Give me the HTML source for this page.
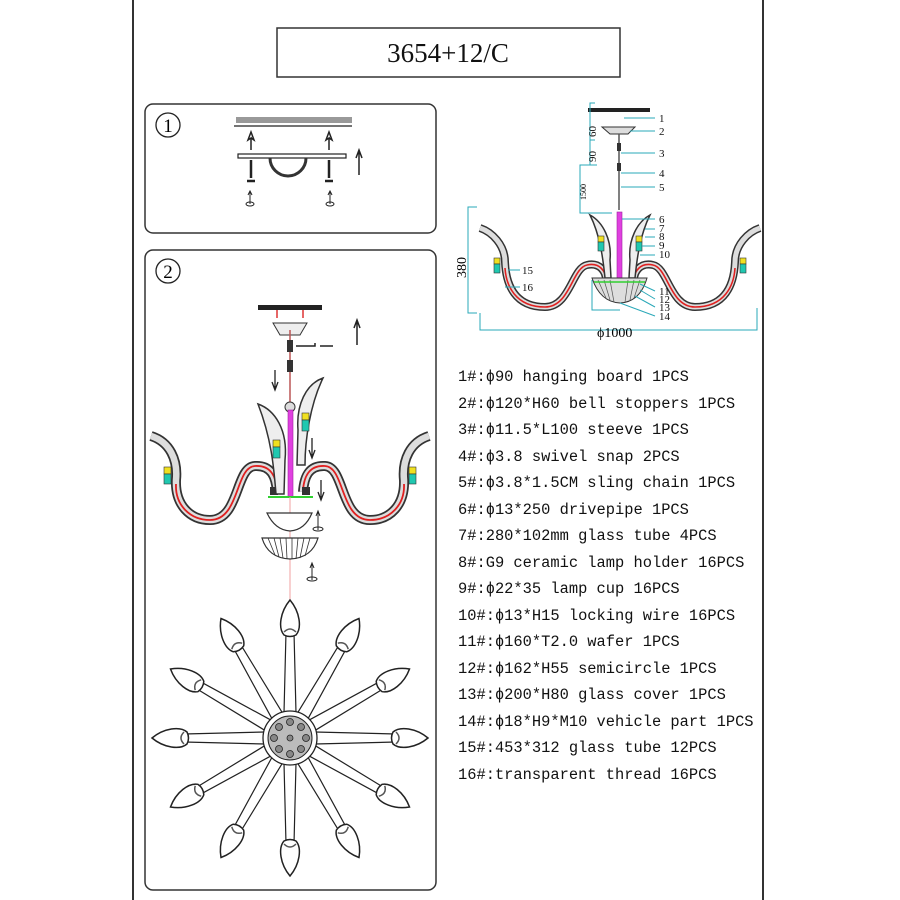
<!DOCTYPE html>
<html><head><meta charset="utf-8"><style>
html,body{margin:0;padding:0;background:#fff;}
svg{display:block;}
.t{font-family:"Liberation Mono",monospace;font-size:15.4px;fill:#111;}
.n{font-family:"Liberation Serif",serif;font-size:11px;fill:#111;}
</style></head><body>
<svg width="900" height="900" viewBox="0 0 900 900" xmlns="http://www.w3.org/2000/svg">
<defs>
<g id="petal">
 <path d="M-6,-25 L-4,-106 M6,-25 L4,-106" stroke="#222" stroke-width="1.2" fill="none"/>
 <path d="M0,-138 C-10,-126 -12,-110 -6,-103 Q0,-100 6,-103 C12,-110 10,-126 0,-138Z" fill="#fff" stroke="#222" stroke-width="1.5"/>
 <path d="M-6,-106 Q0,-112 6,-106" stroke="#555" stroke-width="1.5" fill="none"/>
</g>
<g id="armR">
 <path d="M480,228 C492,232 505,245 505,262 C506,285 515,307 545,307 C570,307 572,268 587,265 C600,262 606,272 606,280" fill="none" stroke="#333" stroke-width="8"/>
 <path d="M480,228 C492,232 505,245 505,262 C506,285 515,307 545,307 C570,307 572,268 587,265 C600,262 606,272 606,280" fill="none" stroke="#ddd" stroke-width="5"/>
 <path d="M505,268 C506,285 515,307 545,307 C570,307 572,268 587,265 C600,262 606,272 606,280" fill="none" stroke="#e02020" stroke-width="1.6"/>
 <rect x="494" y="258" width="6" height="6" fill="#f0e020" stroke="#333" stroke-width=".6"/>
 <rect x="494" y="264" width="6" height="9" fill="#20c8b0" stroke="#333" stroke-width=".6"/>
 <path d="M590,215 C603,222 612,240 610,260 L611,278 L605,278 C603,258 600,235 590,215Z" fill="#eee" stroke="#333" stroke-width="1.5"/>
 <rect x="598" y="236" width="6" height="6" fill="#f0e020" stroke="#333" stroke-width=".6"/>
 <rect x="598" y="242" width="6" height="9" fill="#20c8b0" stroke="#333" stroke-width=".6"/>
</g>
<g id="armL">
 <path d="M151,436 C170,442 178,460 176,480 C175,505 190,520 210,520 C240,520 235,467 255,466 C272,465 276,478 277,492" fill="none" stroke="#333" stroke-width="10"/>
 <path d="M151,436 C170,442 178,460 176,480 C175,505 190,520 210,520 C240,520 235,467 255,466 C272,465 276,478 277,492" fill="none" stroke="#ddd" stroke-width="6.5"/>
 <path d="M176,484 C175,505 190,520 210,520 C240,520 235,467 255,466 C272,465 276,478 277,490" fill="none" stroke="#e02020" stroke-width="1.8"/>
 <rect x="164" y="467" width="7" height="7" fill="#f0e020" stroke="#333" stroke-width=".6"/>
 <rect x="164" y="474" width="7" height="10" fill="#20c8b0" stroke="#333" stroke-width=".6"/>
 <rect x="270" y="487" width="8" height="8" fill="#333"/>
</g>
</defs>

<line x1="133" y1="0" x2="133" y2="900" stroke="#333" stroke-width="2"/>
<line x1="763" y1="0" x2="763" y2="900" stroke="#333" stroke-width="2"/>
<rect x="277" y="28" width="343" height="49" fill="none" stroke="#333" stroke-width="1.5"/>
<text x="448" y="62" text-anchor="middle" style="font-family:'Liberation Serif',serif;font-size:27px;fill:#111">3654+12/C</text>

<rect x="145" y="104" width="291" height="129" rx="8" fill="none" stroke="#333" stroke-width="1.5"/>
<circle cx="168" cy="125" r="12" fill="none" stroke="#222" stroke-width="1.3"/>
<text x="168" y="132" text-anchor="middle" style="font-family:'Liberation Serif',serif;font-size:19px">1</text>
<rect x="236" y="117" width="116" height="6" fill="#999"/>
<line x1="234" y1="126" x2="352" y2="126" stroke="#222" stroke-width="1.2"/>
<path d="M251,150 L251,138 L248,140 L251,132 L254,140 L251,138" stroke="#222" fill="none" stroke-width="1.5"/>
<path d="M329,150 L329,138 L326,140 L329,132 L332,140 L329,138" stroke="#222" fill="none" stroke-width="1.5"/>
<rect x="238" y="154" width="108" height="4" fill="#fff" stroke="#222" stroke-width="1.2"/>
<path d="M270,158 A18,18 0 0 0 306,158" fill="none" stroke="#333" stroke-width="3"/>
<path d="M251,160 L251,178 M247,181 L255,181 M329,160 L329,178 M325,181 L333,181" stroke="#222" stroke-width="2.5"/>
<path d="M359,175 L359,152 M356,158 L359,150 L362,158" stroke="#222" stroke-width="1.5" fill="none"/>
<path d="M250,204 L250,192 M248,195 L250,191 L252,195 M330,204 L330,192 M328,195 L330,191 L332,195" stroke="#222" stroke-width="1" fill="none"/>
<ellipse cx="250" cy="204" rx="4" ry="2" fill="none" stroke="#222"/><ellipse cx="330" cy="204" rx="4" ry="2" fill="none" stroke="#222"/>

<rect x="145" y="250" width="291" height="640" rx="8" fill="none" stroke="#333" stroke-width="1.5"/>
<circle cx="168" cy="271" r="12" fill="none" stroke="#222" stroke-width="1.3"/>
<text x="168" y="278" text-anchor="middle" style="font-family:'Liberation Serif',serif;font-size:19px">2</text>
<rect x="258" y="305" width="64" height="5" fill="#222"/>
<path d="M277,310 L277,318 M303,310 L303,318" stroke="#d33" stroke-width="1.5"/>
<path d="M273,323 L307,323 L300,335 L280,335Z" fill="#eee" stroke="#333"/>
<line x1="290" y1="330" x2="290" y2="405" stroke="#b55" stroke-width="1.5"/>
<rect x="287" y="340" width="6" height="12" fill="#333"/><rect x="287" y="360" width="6" height="12" fill="#333"/>
<path d="M296,346 L315,346 L315,343 M320,346 L333,346" stroke="#222" stroke-width="1.5" fill="none"/>
<path d="M357,345 L357,322 M354,328 L357,320 L360,328" stroke="#222" stroke-width="1.5" fill="none"/>
<path d="M275,370 L275,388 M272,382 L275,390 L278,382" stroke="#222" stroke-width="1.3" fill="none"/>
<path d="M312,438 L312,456 M309,450 L312,458 L315,450" stroke="#222" stroke-width="1.3" fill="none"/>
<path d="M321,480 L321,498 M318,492 L321,500 L324,492" stroke="#222" stroke-width="1.3" fill="none"/>
<circle cx="290" cy="407" r="5" fill="#ddd" stroke="#333"/>
<rect x="288" y="410" width="5" height="87" fill="#e040e0" stroke="#a020a0" stroke-width=".6"/>
<use href="#armL"/>
<use href="#armL" transform="translate(580,0) scale(-1,1)"/>
<path d="M258,404 C275,410 288,430 285,460 L284,494 L276,494 C274,470 272,440 258,404Z" fill="#eee" stroke="#333" stroke-width="1.5"/>
<rect x="273" y="440" width="7" height="7" fill="#f0e020" stroke="#333" stroke-width=".6"/><rect x="273" y="447" width="7" height="11" fill="#20c8b0" stroke="#333" stroke-width=".6"/>
<path d="M323,378 C306,384 296,405 298,430 L297,465 L305,465 C305,440 310,405 323,378Z" fill="#eee" stroke="#333" stroke-width="1.5"/>
<rect x="302" y="413" width="7" height="7" fill="#f0e020" stroke="#333" stroke-width=".6"/><rect x="302" y="420" width="7" height="11" fill="#20c8b0" stroke="#333" stroke-width=".6"/>
<line x1="268" y1="497" x2="313" y2="497" stroke="#30d030" stroke-width="2"/>
<line x1="290" y1="497" x2="290" y2="600" stroke="#f0a0a0" stroke-width="1"/>
<path d="M267,513 L312,513 Q305,530 290,531 Q275,530 267,513Z" fill="#fff" stroke="#333" stroke-width="1.2"/>
<path d="M262,538 L318,538 Q312,558 290,559 Q268,558 262,538Z" fill="#fff" stroke="#333" stroke-width="1.2"/>
<path d="M268,538 L275,555 M274,538 L279,557 M280,538 L283,558 M286,538 L287,559 M292,538 L292,559 M298,538 L296,559 M304,538 L300,558 M310,538 L305,556" stroke="#333" stroke-width=".8"/>
<path d="M318,530 L318,512 M316,516 L318,511 L320,516 M312,580 L312,564 M310,568 L312,563 L314,568" stroke="#222" fill="none"/>
<ellipse cx="318" cy="529" rx="5" ry="2" fill="none" stroke="#222"/><ellipse cx="312" cy="579" rx="5" ry="2" fill="none" stroke="#222"/>
<g transform="translate(290,738)">
 <use href="#petal"/><use href="#petal" transform="rotate(30)"/><use href="#petal" transform="rotate(60)"/><use href="#petal" transform="rotate(90)"/>
 <use href="#petal" transform="rotate(120)"/><use href="#petal" transform="rotate(150)"/><use href="#petal" transform="rotate(180)"/><use href="#petal" transform="rotate(210)"/>
 <use href="#petal" transform="rotate(240)"/><use href="#petal" transform="rotate(270)"/><use href="#petal" transform="rotate(300)"/><use href="#petal" transform="rotate(330)"/>
 <circle r="27" fill="#fff" stroke="#222" stroke-width="1.3"/>
 <circle r="22" fill="#bbb" stroke="#222"/>
 <g fill="#888" stroke="#222" stroke-width=".8">
 <circle cx="0" cy="-16" r="3.5"/><circle cx="0" cy="16" r="3.5"/><circle cx="-16" cy="0" r="3.5"/><circle cx="16" cy="0" r="3.5"/>
 <circle cx="11" cy="-11" r="3.5"/><circle cx="-11" cy="-11" r="3.5"/><circle cx="11" cy="11" r="3.5"/><circle cx="-11" cy="11" r="3.5"/>
 <circle cx="0" cy="0" r="3"/>
 </g>
</g>

<rect x="588" y="108" width="62" height="4" fill="#222"/>
<path d="M602,127 L635,127 L628,134 L610,134Z" fill="#ddd" stroke="#333"/>
<line x1="619" y1="134" x2="619" y2="210" stroke="#555" stroke-width="1.5"/>
<rect x="617" y="143" width="4" height="8" fill="#333"/><rect x="617" y="163" width="4" height="8" fill="#333"/>
<rect x="617" y="212" width="5" height="90" fill="#e040e0" stroke="#a020a0" stroke-width=".6"/>
<use href="#armR"/>
<use href="#armR" transform="translate(1240,0) scale(-1,1)"/>
<path d="M592,278 L647,278 Q640,302 620,303 Q600,302 592,278Z" fill="#ddd" stroke="#333"/>
<path d="M598,280 L606,298 M604,280 L610,300 M610,280 L614,302 M628,280 L625,302 M634,280 L630,300 M640,280 L634,298" stroke="#555" stroke-width=".7"/>
<line x1="594" y1="282" x2="645" y2="282" stroke="#30d030" stroke-width="1.5"/>
<g stroke="#2aa8b8" stroke-width="1" fill="none">
<path d="M624,118 L655,118 M630,131 L655,131 M621,153 L655,153 M621,173 L655,173 M621,187 L655,187 M622,219 L655,219 M645,229 L655,229 M645,237 L655,237 M642,246 L655,246 M640,255 L655,255"/>
<path d="M640,284 L655,291 M640,290 L655,299 M635,296 L655,307 M620,303 L655,316"/>
<path d="M508,270 L520,270 M505,287 L520,287"/>
<path d="M595,103 L590,103 L590,140 L595,140 M590,140 L590,165 L597,165 M597,165 L580,165 L580,213 L612,213"/>
<path d="M477,207 L468,207 L468,313 L477,313 M480,313 L480,330 L757,330 L757,308 M592,280 L592,310 L620,310"/>
</g>
<g class="n">
<text x="659" y="122">1</text><text x="659" y="135">2</text><text x="659" y="157">3</text><text x="659" y="177">4</text><text x="659" y="191">5</text>
<text x="659" y="223">6</text><text x="659" y="232">7</text><text x="659" y="240">8</text><text x="659" y="249">9</text><text x="659" y="258">10</text>
<text x="659" y="295">11</text><text x="659" y="303">12</text><text x="659" y="311">13</text><text x="659" y="320">14</text>
<text x="522" y="274">15</text><text x="522" y="291">16</text>
</g>
<text transform="translate(596,137) rotate(-90)" class="n">60</text>
<text transform="translate(596,162) rotate(-90)" class="n">90</text>
<text transform="translate(586,200) rotate(-90)" style="font-family:'Liberation Serif',serif;font-size:8px">1500</text>
<text transform="translate(466,278) rotate(-90)" style="font-family:'Liberation Serif',serif;font-size:14px">380</text>
<text x="597" y="337" style="font-family:'Liberation Serif',serif;font-size:14px">ϕ1000</text>

<g class="t">
<text x="458" y="381">1#:ϕ90 hanging board 1PCS</text>
<text x="458" y="408">2#:ϕ120*H60 bell stoppers 1PCS</text>
<text x="458" y="434">3#:ϕ11.5*L100 steeve 1PCS</text>
<text x="458" y="461">4#:ϕ3.8 swivel snap 2PCS</text>
<text x="458" y="487">5#:ϕ3.8*1.5CM sling chain  1PCS</text>
<text x="458" y="514">6#:ϕ13*250 drivepipe  1PCS</text>
<text x="458" y="540">7#:280*102mm glass tube 4PCS</text>
<text x="458" y="567">8#:G9 ceramic lamp holder 16PCS</text>
<text x="458" y="593">9#:ϕ22*35 lamp cup 16PCS</text>
<text x="458" y="620">10#:ϕ13*H15 locking wire 16PCS</text>
<text x="458" y="646">11#:ϕ160*T2.0 wafer 1PCS</text>
<text x="458" y="673">12#:ϕ162*H55 semicircle 1PCS</text>
<text x="458" y="699">13#:ϕ200*H80 glass cover 1PCS</text>
<text x="458" y="726">14#:ϕ18*H9*M10 vehicle part 1PCS</text>
<text x="458" y="752">15#:453*312 glass tube 12PCS</text>
<text x="458" y="779">16#:transparent thread 16PCS</text>
</g>
</svg>
</body></html>
